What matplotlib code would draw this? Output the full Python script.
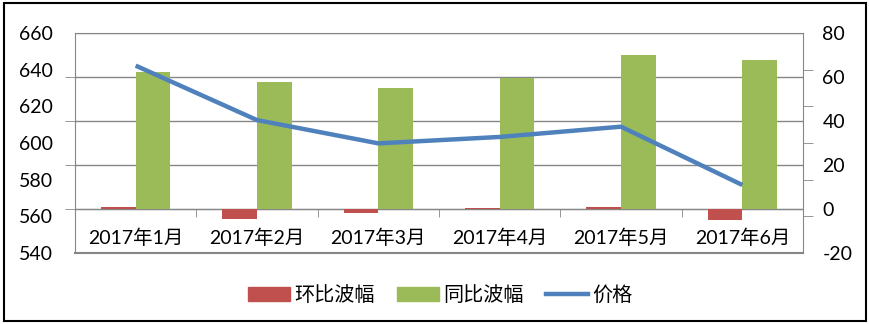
import matplotlib
matplotlib.use("Agg")
import matplotlib.pyplot as plt
import numpy as np
from matplotlib.patches import Rectangle, Patch
from matplotlib.lines import Line2D
from matplotlib.ticker import FixedLocator

plt.rcParams['font.family'] = ['Lato', 'Noto Sans CJK SC', 'DejaVu Sans']
plt.rcParams['axes.unicode_minus'] = False

# monthly data
months = ['2017年1月', '2017年2月', '2017年3月', '2017年4月', '2017年5月', '2017年6月']
mom = [1.1, -4.5, -1.9, 0.5, 1.1, -5.0]        # 环比波幅
yoy = [62.4, 57.7, 55.0, 59.5, 70.0, 67.7]     # 同比波幅
price = [642.2, 612.5, 599.8, 603.3, 608.9, 577.1]  # 价格

red = '#C0504D'
green = '#9BBB59'
blue = '#4F81BD'
grey = '#868686'

fig = plt.figure(figsize=(8.7, 3.24), dpi=100)
ax = fig.add_axes([75/870, 71/324, 728/870, 220/324])
ax2 = ax.twinx()

x = np.arange(len(months))
w = 0.285
ax.bar(x - w/2, mom, w, color=red, zorder=3)
ax.bar(x + w/2, yoy, w, color=green, zorder=3)
ax.set_xlim(-0.5, 5.5)
ax.set_ylim(-20, 80)
ax.set_yticks(np.arange(-20, 81, 20))
ax.yaxis.tick_right()
ax.yaxis.grid(True, color=grey, lw=1, zorder=0)
ax.set_axisbelow(True)
# right axis tick marks sit at the left-axis label spacing
ax.yaxis.set_minor_locator(FixedLocator(np.linspace(-20, 80, 7)))
ax.tick_params(axis='y', which='major', length=0, pad=14, labelsize=14,
               right=True, left=False, labelright=True, labelleft=False)
ax.tick_params(axis='y', which='minor', length=7, color=grey, direction='out',
               right=True, left=False)

# category axis crosses at zero
ax.spines['bottom'].set_position(('data', 0))
ax.set_xticks(x)
ax.set_xticklabels(months)
ax.xaxis.set_minor_locator(FixedLocator(np.arange(-0.5, 6, 1)))
ax.tick_params(axis='x', which='major', length=0, pad=14, labelsize=14)
ax.tick_params(axis='x', which='minor', length=6, color=grey, direction='out')
ax.axhline(-20, color=grey, lw=1.5, clip_on=False, zorder=1)

for sp in ax.spines.values():
    sp.set_color(grey)
for sp in ax2.spines.values():
    sp.set_visible(False)

ax2.plot(x, price, color=blue, lw=3.2, solid_capstyle='butt', zorder=4)
ax2.set_ylim(540, 660)
ax2.set_yticks(np.arange(540, 661, 20))
ax2.yaxis.set_ticks_position('left')
ax2.yaxis.set_label_position('left')
ax2.yaxis.set_minor_locator(FixedLocator(np.linspace(540, 660, 6)))
ax2.tick_params(axis='y', which='major', length=0, pad=16, labelsize=14,
                left=True, right=False, labelleft=True, labelright=False)
ax2.tick_params(axis='y', which='minor', length=7, color=grey, direction='out',
                left=True, right=False)

handles = [Patch(color=red), Patch(color=green), Line2D([], [], color=blue, lw=3.2)]
fig.legend(handles, ['环比波幅', '同比波幅', '价格'], loc='center', ncol=3,
           bbox_to_anchor=(0.506, 0.09), frameon=False, fontsize=14.5,
           handlelength=2.1, handleheight=0.67, handletextpad=0.2, columnspacing=1.1)

fig.patches.append(Rectangle((4/870, 3/324), 862/870, 318/324, transform=fig.transFigure,
                             fill=False, edgecolor='black', lw=1.5))

fig.savefig('out.png', dpi=100)
